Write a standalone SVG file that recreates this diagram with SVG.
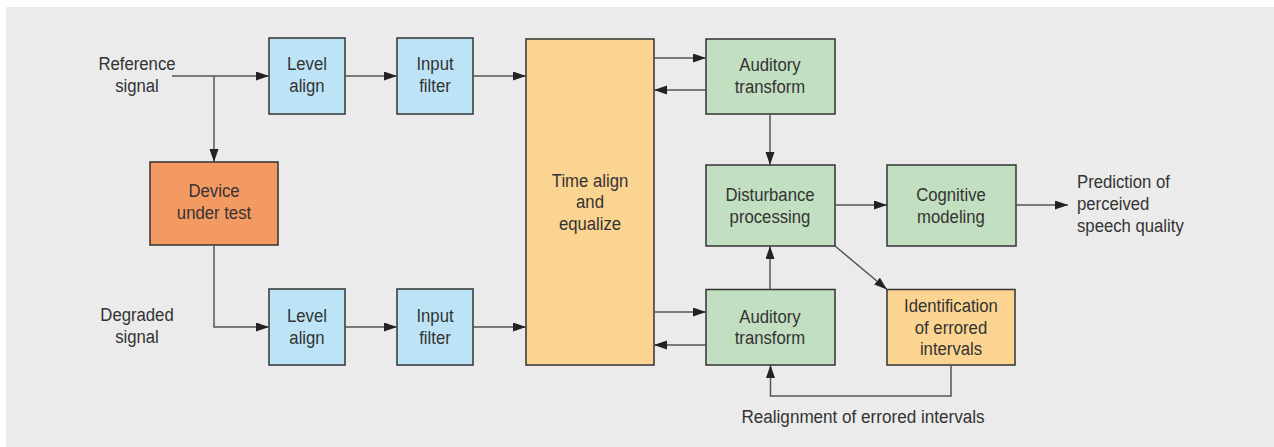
<svg xmlns="http://www.w3.org/2000/svg" width="1274" height="447" viewBox="0 0 1274 447">
<defs>
<marker id="ah" markerUnits="userSpaceOnUse" markerWidth="14" markerHeight="10" refX="13" refY="4.5" orient="auto">
<path d="M0,0 L13,4.5 L0,9 z" fill="#222"/>
</marker>
<style>
.t{font-family:"Liberation Sans",Arial,sans-serif;font-size:19px;fill:#333;text-anchor:middle}
.tl{text-anchor:start}
.box{stroke:#333;stroke-width:1.5}
.blue{fill:#bde4f6}
.dev{fill:#f39a63}
.yel{fill:#fcd491}
.grn{fill:#c3dfc1}
.c{fill:none;stroke:#555;stroke-width:1.5;marker-end:url(#ah)}
</style>
</defs>
<rect x="6" y="7" width="1268" height="440" fill="#ebebeb"/>

<g id="labels">
<text class="t" transform="translate(137,0) scale(0.88,1)" y="70.5">Reference</text>
<text class="t" transform="translate(137,0) scale(0.88,1)" y="92">signal</text>
<text class="t" transform="translate(137,0) scale(0.88,1)" y="321.5">Degraded</text>
<text class="t" transform="translate(137,0) scale(0.88,1)" y="343">signal</text>
<text class="t tl" transform="translate(1077,0) scale(0.88,1)" y="188">Prediction of</text>
<text class="t tl" transform="translate(1077,0) scale(0.88,1)" y="210">perceived</text>
<text class="t tl" transform="translate(1077,0) scale(0.88,1)" y="232">speech quality</text>
<text class="t" transform="translate(863,0) scale(0.9,1)" y="423">Realignment of errored intervals</text>
</g>

<g id="levelAlignRef">
<rect class="box blue" x="269" y="38" width="76" height="76"/>
<text class="t" transform="translate(307,0) scale(0.88,1)" y="70.5">Level</text>
<text class="t" transform="translate(307,0) scale(0.88,1)" y="92">align</text>
</g>
<g id="inputFilterRef">
<rect class="box blue" x="397" y="38" width="76" height="76"/>
<text class="t" transform="translate(435,0) scale(0.88,1)" y="70.5">Input</text>
<text class="t" transform="translate(435,0) scale(0.88,1)" y="92">filter</text>
</g>
<g id="deviceUnderTest">
<rect class="box dev" x="150" y="162" width="128" height="83"/>
<text class="t" transform="translate(214,0) scale(0.88,1)" y="197.5">Device</text>
<text class="t" transform="translate(214,0) scale(0.88,1)" y="219">under test</text>
</g>
<g id="levelAlignDeg">
<rect class="box blue" x="269" y="289" width="76" height="76"/>
<text class="t" transform="translate(307,0) scale(0.88,1)" y="322.5">Level</text>
<text class="t" transform="translate(307,0) scale(0.88,1)" y="344">align</text>
</g>
<g id="inputFilterDeg">
<rect class="box blue" x="397" y="289" width="76" height="76"/>
<text class="t" transform="translate(435,0) scale(0.88,1)" y="322.5">Input</text>
<text class="t" transform="translate(435,0) scale(0.88,1)" y="344">filter</text>
</g>
<g id="timeAlign">
<rect class="box yel" x="526" y="39" width="128" height="326"/>
<text class="t" transform="translate(590,0) scale(0.88,1)" y="187">Time align</text>
<text class="t" transform="translate(590,0) scale(0.88,1)" y="208.5">and</text>
<text class="t" transform="translate(590,0) scale(0.88,1)" y="230">equalize</text>
</g>
<g id="auditoryRef">
<rect class="box grn" x="706" y="39" width="129" height="75"/>
<text class="t" transform="translate(770,0) scale(0.88,1)" y="71.5">Auditory</text>
<text class="t" transform="translate(770,0) scale(0.88,1)" y="93">transform</text>
</g>
<g id="disturbance">
<rect class="box grn" x="706" y="165" width="129" height="81"/>
<text class="t" transform="translate(770,0) scale(0.88,1)" y="201.5">Disturbance</text>
<text class="t" transform="translate(770,0) scale(0.88,1)" y="223">processing</text>
</g>
<g id="cognitive">
<rect class="box grn" x="887" y="165" width="129" height="81"/>
<text class="t" transform="translate(951,0) scale(0.88,1)" y="201.5">Cognitive</text>
<text class="t" transform="translate(951,0) scale(0.88,1)" y="223">modeling</text>
</g>
<g id="auditoryDeg">
<rect class="box grn" x="706" y="289.5" width="129" height="75.5"/>
<text class="t" transform="translate(770,0) scale(0.88,1)" y="323">Auditory</text>
<text class="t" transform="translate(770,0) scale(0.88,1)" y="344.5">transform</text>
</g>
<g id="identification">
<rect class="box yel" x="887" y="289.5" width="128" height="75.5"/>
<text class="t" transform="translate(951,0) scale(0.88,1)" y="312.5">Identification</text>
<text class="t" transform="translate(951,0) scale(0.88,1)" y="334">of errored</text>
<text class="t" transform="translate(951,0) scale(0.88,1)" y="355.5">intervals</text>
</g>

<g id="connectors">
<path class="c" d="M172,76 H269"/>
<path class="c" d="M214,76 V162"/>
<path class="c" d="M345,76 H397"/>
<path class="c" d="M473,76 H526"/>
<path class="c" d="M214,245 V327 H269"/>
<path class="c" d="M345,327 H397"/>
<path class="c" d="M473,327 H526"/>
<path class="c" d="M654,58 H706"/>
<path class="c" d="M706,90 H654"/>
<path class="c" d="M770,114 V165"/>
<path class="c" d="M654,312 H706"/>
<path class="c" d="M706,345 H654"/>
<path class="c" d="M770,289.5 V246"/>
<path class="c" d="M835,205 H887"/>
<path class="c" d="M1016,205 H1068"/>
<path class="c" d="M835,246 L887,289.5"/>
<path class="c" d="M951,365 V396 H770.5 V365"/>
</g>
</svg>
